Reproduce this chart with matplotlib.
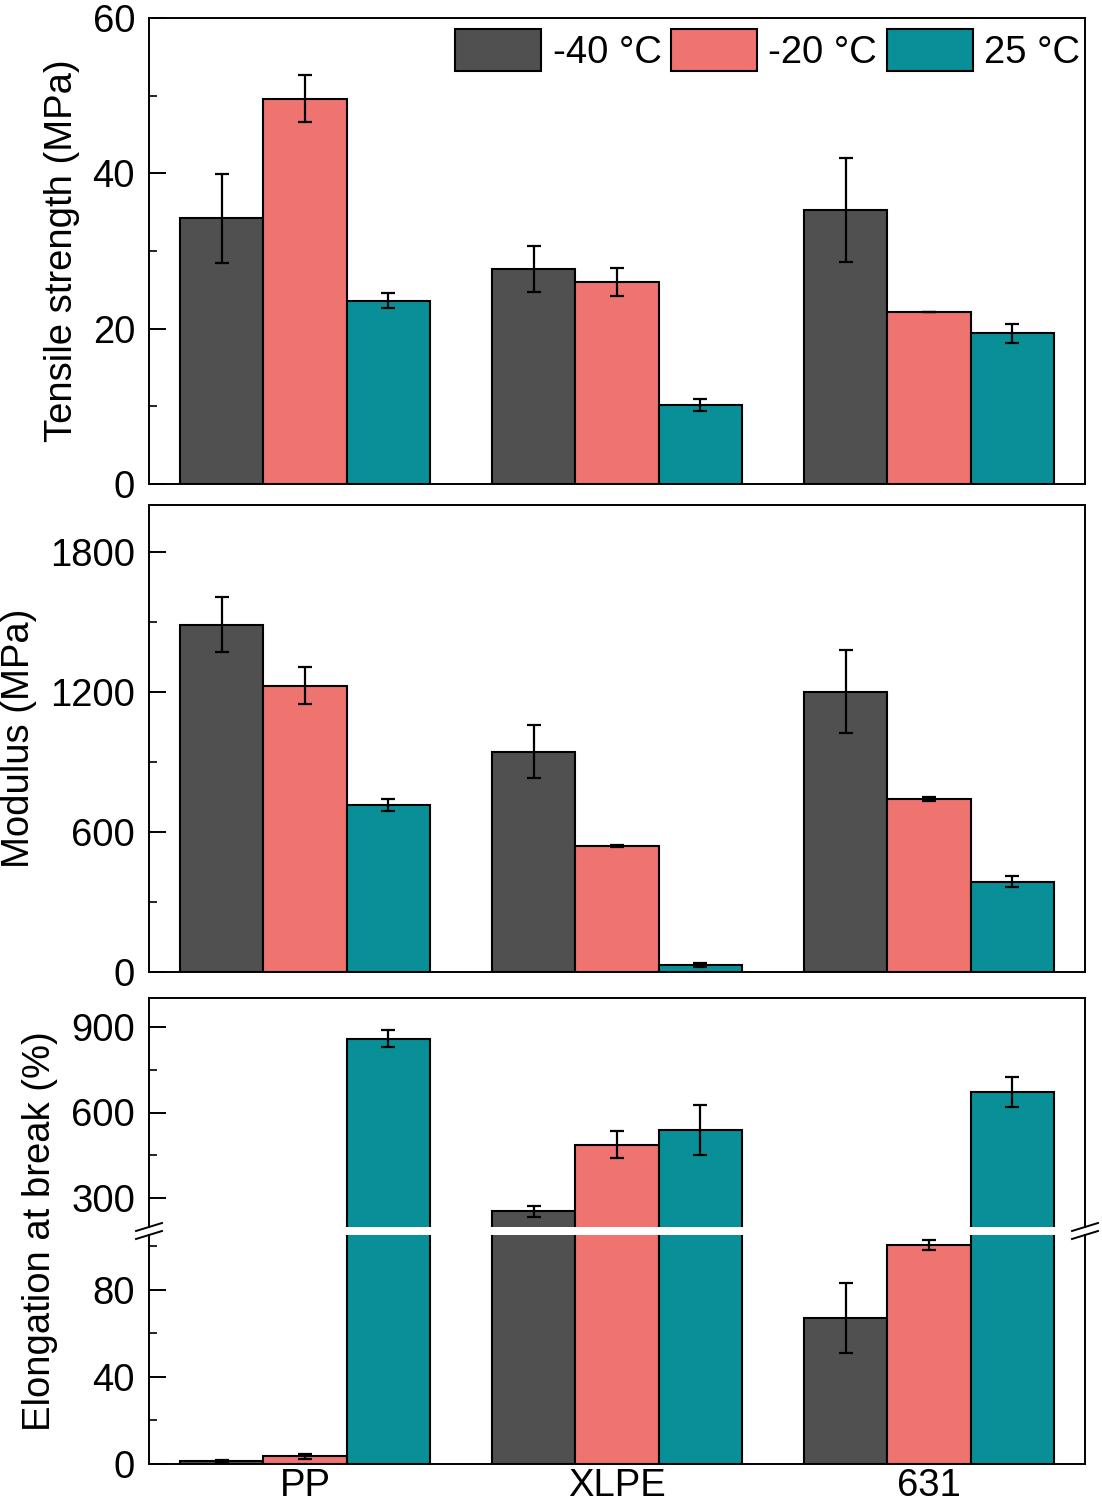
import matplotlib
matplotlib.use("Agg")
import matplotlib.pyplot as plt
from matplotlib.lines import Line2D
from matplotlib.ticker import MultipleLocator
import numpy as np

plt.rcParams["font.family"] = ["Liberation Sans", "DejaVu Sans"]

materiales = ["PP", "XLPE", "631"]
temperaturas = ["-40 °C", "-20 °C", "25 °C"]
colores = ["#505050", "#EF7470", "#088F98"]

# Tensile strength (MPa)
resistencia = [[34.2, 27.7, 35.3],
               [49.6, 26.0, 22.1],
               [23.6, 10.2, 19.4]]
resistencia_err = [[5.7, 3.0, 6.7],
                   [3.0, 1.8, 0.0],
                   [1.0, 0.8, 1.2]]

# Modulus (MPa)
modulo = [[1487, 943, 1200],
          [1226, 540, 741],
          [716, 30, 386]]
modulo_err = [[118, 113, 178],
              [80, 5, 10],
              [26, 8, 24]]

# Elongation at break (%)
elongacion = [[1.5, 255, 67],
              [3.5, 487, 100.3],
              [858, 539, 672]]
elongacion_err = [[0.5, 20, 16],
                  [1.0, 47, 2.3],
                  [30, 87, 52]]

W, H = 1102, 1511
fig = plt.figure(figsize=(W / 100, H / 100), dpi=100)

def caja(top, bottom):
    return [149 / W, 1 - bottom / H, 936 / W, (bottom - top) / H]

ax1 = fig.add_axes(caja(18, 484))
ax2 = fig.add_axes(caja(505, 972))
ax3a = fig.add_axes(caja(998, 1227))
ax3b = fig.add_axes(caja(1235, 1464))

x = np.arange(1, 4)
ancho = 0.8 / 3
FS = 27.5

def barras(ax, datos, errores, etiquetas=False):
    for i in range(3):
        ax.bar(x + (i - 1) * ancho, datos[i], ancho, color=colores[i],
               edgecolor="black", linewidth=1.5,
               label=temperaturas[i] if etiquetas else None)
        ax.errorbar(x + (i - 1) * ancho, datos[i], yerr=errores[i], fmt="none",
                    ecolor="black", elinewidth=1.6, capsize=5, capthick=1.6)
    ax.set_xlim(0.5, 3.5)
    ax.tick_params(axis="y", which="major", direction="in", length=12, width=1.4,
                   labelsize=FS, pad=10)
    ax.tick_params(axis="y", which="minor", direction="in", length=6, width=1.2)
    ax.tick_params(axis="x", length=0, labelsize=FS, pad=3)
    ax.set_xticks(x)
    ax.set_xticklabels([])
    for s in ax.spines.values():
        s.set_linewidth(1.4)

barras(ax1, resistencia, resistencia_err, etiquetas=True)
ax1.set_ylim(0, 60)
ax1.yaxis.set_major_locator(MultipleLocator(20))
ax1.yaxis.set_minor_locator(MultipleLocator(10))
ax1.legend(loc="upper right", bbox_to_anchor=(1.007, 1.0), ncol=3, frameon=False,
           fontsize=FS, handlelength=2.25, handleheight=1.3, handletextpad=0.3,
           columnspacing=0.25, borderaxespad=0.05, borderpad=0.25)

barras(ax2, modulo, modulo_err)
ax2.set_ylim(0, 2000)
ax2.set_yticks([0, 600, 1200, 1800])
ax2.yaxis.set_minor_locator(MultipleLocator(300))

barras(ax3a, elongacion, elongacion_err)
ax3a.set_ylim(200, 1000)
ax3a.set_yticks([300, 600, 900])
ax3a.yaxis.set_minor_locator(MultipleLocator(150))
ax3a.spines["bottom"].set_visible(False)

barras(ax3b, elongacion, elongacion_err)
ax3b.set_ylim(0, 105)
ax3b.set_yticks([0, 40, 80])
ax3b.yaxis.set_minor_locator(MultipleLocator(20))
ax3b.spines["top"].set_visible(False)
ax3b.set_xticklabels(materiales)

# etiquetas de los ejes y
for texto, xc, yc in [("Tensile strength (MPa)", 62, 251),
                      ("Modulus (MPa)", 19, 738),
                      ("Elongation at break (%)", 40, 1231)]:
    fig.text(xc / W, 1 - yc / H, texto, fontsize=FS, rotation=90,
             ha="center", va="center")

# marcas de corte del eje
for xc in (149, 1085):
    for yc in (1227, 1235):
        fig.add_artist(Line2D([(xc - 13) / W, (xc + 13) / W],
                              [1 - (yc + 4) / H, 1 - (yc - 4) / H],
                              color="black", linewidth=1.4))

fig.savefig("out.png", dpi=100)
